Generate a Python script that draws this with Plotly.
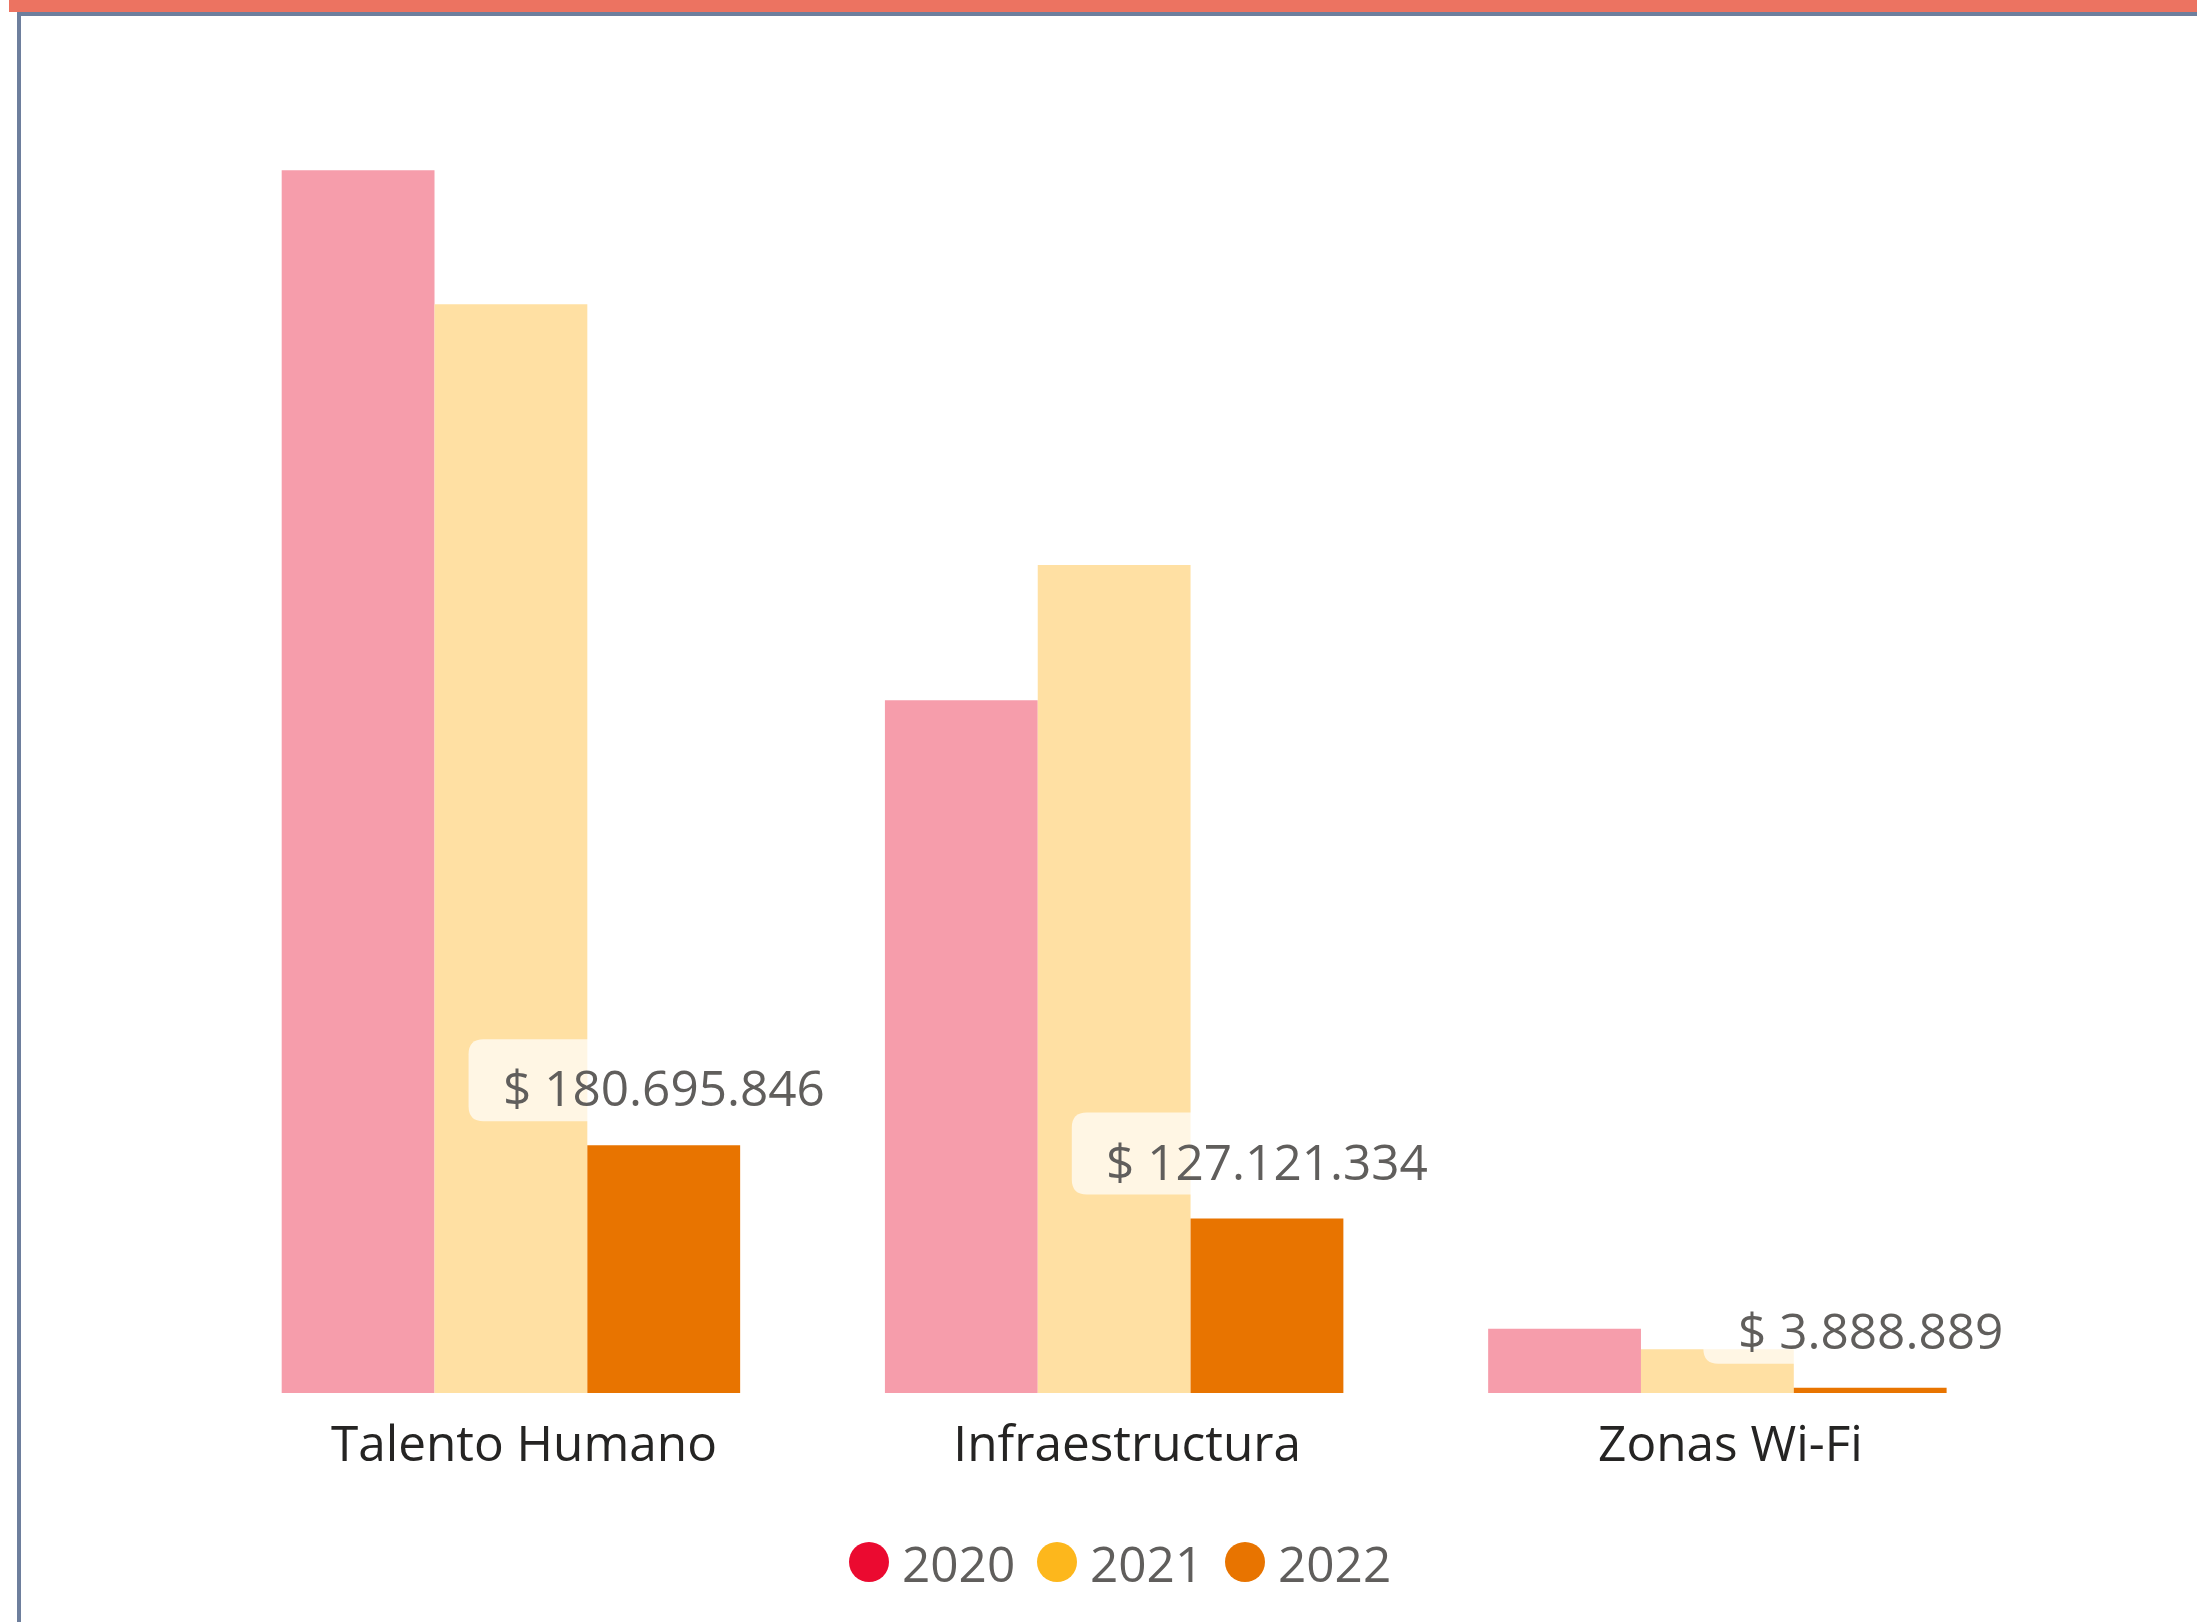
import plotly.graph_objects as go

# ---- data -------------------------------------------------------------
categories = ["Talento Humano", "Infraestructura", "Zonas Wi-Fi"]
years = ["2020", "2021", "2022"]
values_2020 = [891_400_000, 505_000_000, 46_900_000]
values_2021 = [793_700_000, 603_600_000, 31_900_000]
values_2022 = [180_695_846, 127_121_334, 3_888_889]

bar_colors = {"2020": "#F69DAB", "2021": "#FFE0A3", "2022": "#E87400"}
key_colors = {"2020": "#EB0A30", "2021": "#FDB71C", "2022": "#E87400"}

# ---- canvas geometry --------------------------------------------------
W, H = 2197, 1622
FONT = "Open Sans"
TEXT_SIZE = 49.5
BARGAP = 0.24
Y_MAX = 900_000_000


def px(x):
    return x / W


def py(y):
    return 1 - y / H


def money(v):
    return "$ " + f"{v:,}".replace(",", ".")


def text_width(s, size):
    widths = {".": 0.266, " ": 0.26}
    return sum(widths.get(c, 0.572) for c in s) * size


fig = go.Figure()
series = {"2020": values_2020, "2021": values_2021, "2022": values_2022}
for yr in years:
    fig.add_trace(go.Bar(
        x=categories, y=series[yr], name=yr,
        marker=dict(color=bar_colors[yr], line=dict(width=0)),
        showlegend=False, hoverinfo="skip",
    ))

# ---- value labels on the 2022 bars ------------------------------------
offset = (1 - BARGAP) / 3  # centre of the third bar within its group
annotations = []
shapes = []
for i, v in enumerate(values_2022):
    label = money(v)
    tw = text_width(label, TEXT_SIZE)
    half = tw / 2 + 34
    bottom, top, r = 24, 106, 15
    path = (f"M {-half + r},{top} L {half - r},{top} Q {half},{top} {half},{top - r} "
            f"L {half},{bottom + r} Q {half},{bottom} {half - r},{bottom} "
            f"L {-half + r},{bottom} Q {-half},{bottom} {-half},{bottom + r} "
            f"L {-half},{top - r} Q {-half},{top} {-half + r},{top} Z")
    shapes.append(dict(
        type="path", path=path, xref="x", yref="y",
        xsizemode="pixel", ysizemode="pixel",
        xanchor=i + offset, yanchor=v,
        fillcolor="rgba(255,255,255,0.7)", line=dict(width=0), layer="above",
    ))
    annotations.append(dict(
        x=i + offset, y=v, xref="x", yref="y", text=label, showarrow=False,
        yshift=58, xanchor="center", yanchor="middle",
        font=dict(family=FONT, size=TEXT_SIZE, color="#605E5C"),
    ))

# ---- key: coloured dots with year names -------------------------------
key_items = [("2020", 849, 900), ("2021", 1037, 1088), ("2022", 1225, 1276)]
for yr, cx, tx in key_items:
    shapes.append(dict(
        type="circle", xref="paper", yref="paper",
        x0=px(cx), x1=px(cx + 40), y0=py(1582), y1=py(1542),
        fillcolor=key_colors[yr], line=dict(width=0),
    ))
    annotations.append(dict(
        x=px(tx), y=py(1563), xref="paper", yref="paper", text=yr,
        showarrow=False, xanchor="left", yanchor="middle",
        font=dict(family=FONT, size=TEXT_SIZE, color="#605E5C"),
    ))

# ---- frame strips along the top and left edges ------------------------
shapes += [
    dict(type="rect", xref="paper", yref="paper", x0=px(9), x1=1,
         y0=py(12), y1=1, fillcolor="#EC7361", line=dict(width=0)),
    dict(type="rect", xref="paper", yref="paper", x0=px(17), x1=1,
         y0=py(16), y1=py(12), fillcolor="#6E7F9D", line=dict(width=0)),
    dict(type="rect", xref="paper", yref="paper", x0=px(17), x1=px(21),
         y0=0, y1=py(12), fillcolor="#6E7F9D", line=dict(width=0)),
]

fig.update_layout(
    width=W, height=H, autosize=False,
    margin=dict(l=0, r=0, t=0, b=0),
    paper_bgcolor="white", plot_bgcolor="white",
    barmode="group", bargap=BARGAP, bargroupgap=0,
    showlegend=False,
    xaxis=dict(
        domain=[px(209.3), px(2019)],
        range=[-0.5, len(categories) - 0.5], autorange=False,
        showline=False, showgrid=False, zeroline=False, ticks="",
        tickfont=dict(family=FONT, size=TEXT_SIZE, color="#252423"),
        ticklabelstandoff=17, ticklabelshift=13,
    ),
    yaxis=dict(
        domain=[py(1393), py(1393 - Y_MAX / 729_000)],
        range=[0, Y_MAX], autorange=False,
        visible=False, showgrid=False, zeroline=False,
    ),
    shapes=shapes,
    annotations=annotations,
    hovermode=False,
)

fig.write_html("out.html")
